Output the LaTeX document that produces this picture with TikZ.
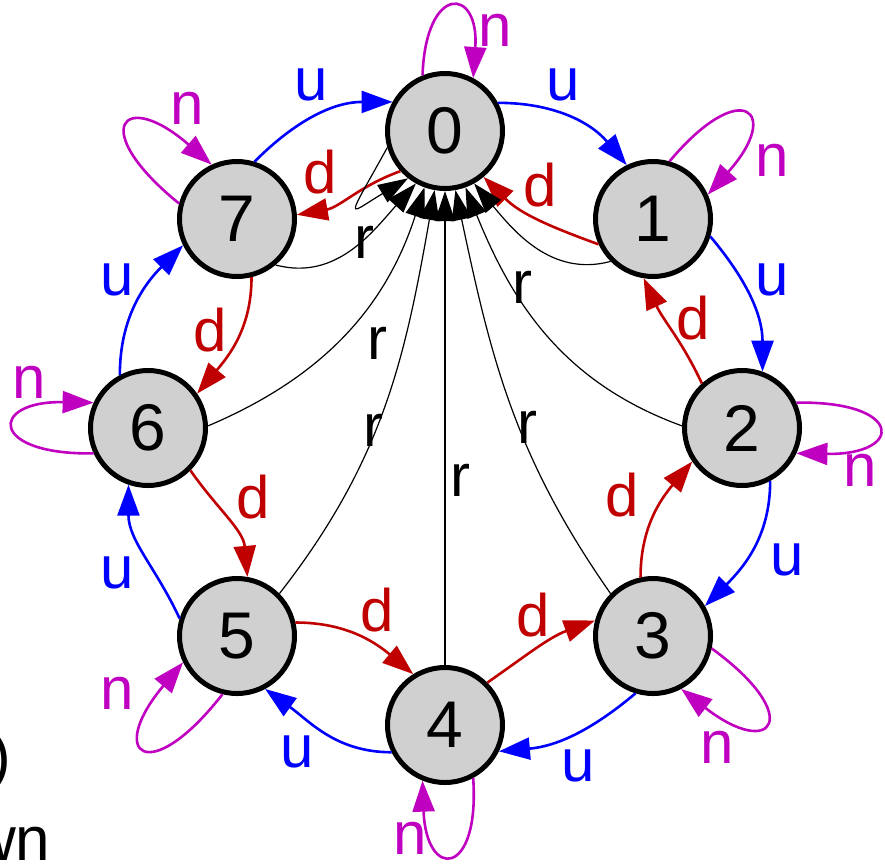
\documentclass[tikz,border=0pt]{standalone}
\usepackage{fontspec}
\setmainfont{Liberation Sans}
\usetikzlibrary{arrows.meta}
\definecolor{ublue}{RGB}{0,0,255}
\definecolor{dred}{RGB}{192,0,0}
\definecolor{nmag}{RGB}{192,0,192}
\definecolor{nfill}{RGB}{208,208,208}
\begin{document}
\begin{tikzpicture}[x=1pt,y=1pt,
  state/.style={circle, draw=black, line width=5pt, fill=nfill, minimum size=115pt, inner sep=0pt, font=\fontsize{66}{66}\selectfont},
  uedge/.style={draw=ublue, line width=2.6pt, -{Triangle[length=31pt,width=22pt]}},
  dedge/.style={draw=dred, line width=2.6pt, -{Triangle[length=31pt,width=22pt]}},
  nedge/.style={draw=nmag, line width=2.6pt, -{Triangle[length=31pt,width=22pt]}},
  redge/.style={draw=black, line width=1.2pt, -{Triangle[length=30pt,width=20pt]}},
  lab/.style={font=\fontsize{60}{60}\selectfont, inner sep=0pt},
  ulab/.style={lab, text=ublue},
  dlab/.style={lab, text=dred},
  nlab/.style={lab, text=nmag},
  rlab/.style={lab, text=black},
  frag/.style={font=\fontsize{62}{62}\selectfont, inner sep=0pt, anchor=base west}
]
\useasboundingbox (0,0) rectangle (885,-865);
\clip (0,0) rectangle (885,-865);

% cropped text fragments at lower left
\node[frag] (fragA) at (-10,-777) {)};
\node[frag] (fragB) at (-29,-860) {wn};

% states
\node[state] (n0) at (445,-131) {0};
\node[state] (n1) at (653,-219) {1};
\node[state] (n2) at (742,-428) {2};
\node[state] (n3) at (653,-636) {3};
\node[state] (n4) at (445,-725) {4};
\node[state] (n5) at (237,-636) {5};
\node[state] (n6) at (148,-428) {6};
\node[state] (n7) at (237,-219) {7};

% u edges (clockwise)
\draw[uedge] (n0.28)   to[out=0,in=130]    (n1.116);
\draw[uedge] (n1.-17)  to[out=-50,in=90]   (n2.70);
\draw[uedge] (n2.-62)  to[out=-90,in=45]   (n3.30);
\draw[uedge] (n3.-107) to[out=-140,in=5]   (n4.-26);
\draw[uedge] (n4.-153) to[out=180,in=-36]  (n5.-62);
\draw[uedge] (n5.163)  to[out=115,in=-90]  (n6.251);
\draw[uedge] (n6.118)  to[out=90,in=225]   (n7.206);
\draw[uedge] (n7.73)   to[out=45,in=180]   (n0.151);

% d edges (counterclockwise)
\draw[dedge] (n0.222)  to[out=200,in=10]   (n7.4);
\draw[dedge] (n1.205)  to[out=160,in=-45]  (n0.310);
\draw[dedge] (n2.132)  to[out=115,in=-65]  (n1.261);
\draw[dedge] (n3.102)  to[out=90,in=230]   (n2.214);
\draw[dedge] (n4.45)   to[out=35,in=200]   (n3.165);
\draw[dedge] (n5.13)   to[out=0,in=140]    (n4.122);
\draw[dedge] (n6.-45)  to[out=-55,in=95]   (n5.80);
\draw[dedge] (n7.-76)  to[out=-90,in=50]   (n6.35);

% n self loops
\draw[nedge] (n0.112) .. controls +(88:92)  and +(86:92)  .. (n0.62);
\draw[nedge] (n1.74)  .. controls +(50:112) and +(48:112) .. (n1.24);
\draw[nedge] (n2.25)  .. controls +(1:108)  and +(-1:108) .. (n2.-25);
\draw[nedge] (n3.-12) .. controls +(-36:116) and +(-38:116) .. (n3.-62);
\draw[nedge] (n4.-62) .. controls +(-86:100) and +(-88:100) .. (n4.-112);
\draw[nedge] (n5.256) .. controls +(232:120) and +(230:120) .. (n5.206);
\draw[nedge] (n6.205) .. controls +(181:105) and +(179:105) .. (n6.155);
\draw[nedge] (n7.165) .. controls +(141:118) and +(139:118) .. (n7.115);

% r edges into 0
\draw[redge] (n0.196) .. controls +(241:88) and +(211:72) .. (n0.232);
\draw[redge] (n7.-50)  to[out=-15,in=228]  (n0.241);
\draw[redge] (n6.2)    to[out=23,in=252]   (n0.250);
\draw[redge] (n5.45)   to[out=52,in=260]   (n0.260);
\draw[redge] (n4.90)   --                  (n0.270);
\draw[redge] (n3.135)  to[out=125,in=282]  (n0.280);
\draw[redge] (n2.178)  to[out=160,in=292]  (n0.290);
\draw[redge] (n1.225)  to[out=195,in=310]  (n0.299);

% labels
\node[ulab] (lu01) at (563,-85)  {u};
\node[ulab] (lu12) at (772,-280) {u};
\node[ulab] (lu23) at (787,-560) {u};
\node[ulab] (lu34) at (578,-766) {u};
\node[ulab] (lu45) at (297,-752) {u};
\node[ulab] (lu56) at (117,-573) {u};
\node[ulab] (lu67) at (117,-280) {u};
\node[ulab] (lu70) at (311,-85)  {u};

\node[dlab] (ld07) at (320,-172) {d};
\node[dlab] (ld10) at (540,-185) {d};
\node[dlab] (ld21) at (693,-318) {d};
\node[dlab] (ld32) at (622,-495) {d};
\node[dlab] (ld43) at (533,-615) {d};
\node[dlab] (ld54) at (377,-610) {d};
\node[dlab] (ld65) at (253,-497) {d};
\node[dlab] (ld76) at (210,-330) {d};

\node[nlab] (ln0) at (495,-30)  {n};
\node[nlab] (ln1) at (772,-160) {n};
\node[nlab] (ln2) at (860,-470) {n};
\node[nlab] (ln3) at (717,-747) {n};
\node[nlab] (ln4) at (410,-838) {n};
\node[nlab] (ln5) at (117,-693) {n};
\node[nlab] (ln6) at (29,-382)  {n};
\node[nlab] (ln7) at (187,-108) {n};

\node[rlab] (lr7) at (364,-242) {r};
\node[rlab] (lr1) at (522,-287) {r};
\node[rlab] (lr6) at (377,-343) {r};
\node[rlab] (lr5) at (373,-430) {r};
\node[rlab] (lr3) at (527,-427) {r};
\node[rlab] (lr4) at (460,-480) {r};
\end{tikzpicture}
\end{document}
